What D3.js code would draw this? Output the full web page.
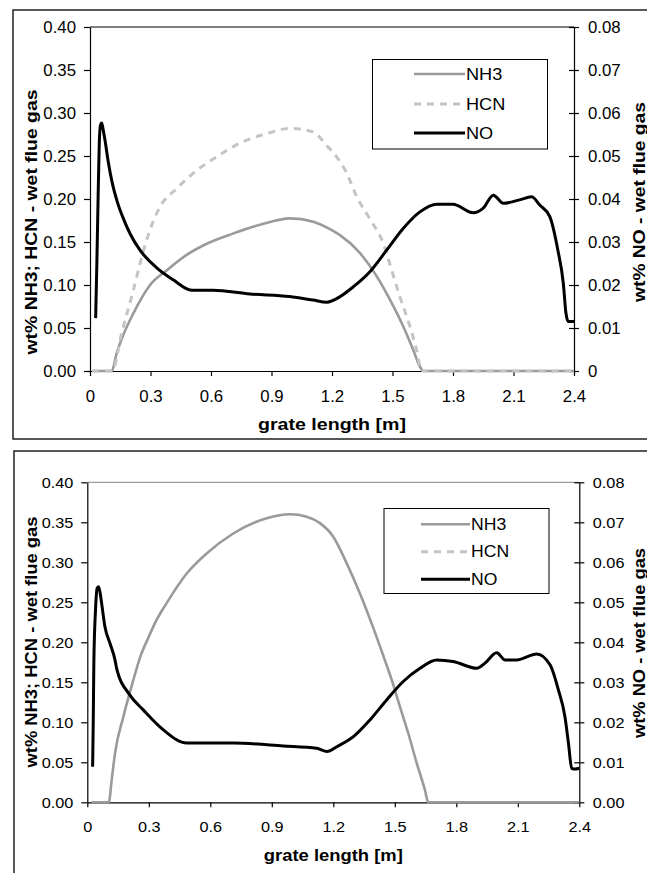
<!DOCTYPE html>
<html>
<head>
<meta charset="utf-8">
<script src="https://cdn.jsdelivr.net/npm/d3@7"></script>
<style>
	body { margin: 0; background: #fff; }
	svg { display: block; }
	text { font-family: 'Liberation Sans', Arial, sans-serif; fill: #000; }
</style>
</head>
<body>
<svg id="chart" width="647" height="873"></svg>
<script>
// --- data ---
const seriesNames = ['NH3', 'HCN', 'NO']

const xTicks = [0, 0.3, 0.6, 0.9, 1.2, 1.5, 1.8, 2.1, 2.4]
const xTickLabels = ['0', '0.3', '0.6', '0.9', '1.2', '1.5', '1.8', '2.1', '2.4']
const leftTicks = [0, 0.05, 0.1, 0.15, 0.2, 0.25, 0.3, 0.35, 0.4]
const leftTickLabels = ['0.00', '0.05', '0.10', '0.15', '0.20', '0.25', '0.30', '0.35', '0.40']
const rightTicks = [0, 0.01, 0.02, 0.03, 0.04, 0.05, 0.06, 0.07, 0.08]
const rightLabelsTop = ['0', '0.01', '0.02', '0.03', '0.04', '0.05', '0.06', '0.07', '0.08']
const rightLabelsBottom = ['0.00', '0.01', '0.02', '0.03', '0.04', '0.05', '0.06', '0.07', '0.08']

// top chart
const topNH3 = [[0.01,0],[0.108,0],[0.132,0.0206],[0.165,0.0419],[0.215,0.067],[0.298,0.1],[0.38,0.117],[0.479,0.135],[0.579,0.148],[0.711,0.16],[0.843,0.17],[0.992,0.1775],[1.107,0.1736],[1.19,0.165],[1.24,0.158],[1.339,0.137],[1.422,0.11],[1.488,0.0826],[1.554,0.0515],[1.603,0.0244],[1.636,0.005],[1.653,0],[2.4,0]]
const topHCN = [[0.01,0],[0.11,0],[0.157,0.044],[0.215,0.094],[0.264,0.139],[0.31,0.172],[0.35,0.192],[0.43,0.212],[0.512,0.23],[0.628,0.249],[0.744,0.265],[0.876,0.276],[0.992,0.282],[1.107,0.278],[1.174,0.262],[1.223,0.249],[1.273,0.23],[1.322,0.203],[1.39,0.176],[1.455,0.148],[1.495,0.118],[1.537,0.086],[1.587,0.0515],[1.62,0.024],[1.645,0],[2.4,0]]
const topNO = [[0.028,0.0123],[0.034,0.025],[0.04,0.04],[0.046,0.053],[0.052,0.0572],[0.058,0.0577],[0.065,0.0562],[0.075,0.0535],[0.09,0.0488],[0.11,0.0438],[0.135,0.0394],[0.165,0.0355],[0.2,0.0318],[0.248,0.0281],[0.331,0.024],[0.413,0.0212],[0.504,0.0188],[0.61,0.0188],[0.793,0.0179],[0.99,0.0173],[1.106,0.0165],[1.174,0.016],[1.24,0.0173],[1.306,0.0196],[1.388,0.0231],[1.471,0.0281],[1.554,0.0332],[1.636,0.037],[1.719,0.0388],[1.8,0.0388],[1.9,0.0368],[1.95,0.0379],[2.0,0.0409],[2.05,0.039],[2.13,0.0398],[2.19,0.0405],[2.23,0.0386],[2.28,0.0359],[2.32,0.0281],[2.347,0.0204],[2.36,0.0135],[2.372,0.0115],[2.4,0.0115]]

// bottom chart (HCN has no visible curve there, legend only)
const botNH3 = [[0.02,0],[0.105,0],[0.119,0.028],[0.135,0.061],[0.176,0.107],[0.216,0.145],[0.26,0.183],[0.3,0.207],[0.33,0.224],[0.387,0.249],[0.485,0.286],[0.582,0.311],[0.712,0.336],[0.875,0.355],[0.989,0.36],[1.07,0.357],[1.135,0.349],[1.2,0.332],[1.265,0.299],[1.33,0.261],[1.395,0.218],[1.44,0.186],[1.485,0.153],[1.525,0.1195],[1.566,0.086],[1.607,0.049],[1.647,0.0154],[1.663,0],[2.4,0]]
const botHCN = []
const botNO = [[0.026,0.0089],[0.029,0.02],[0.032,0.035],[0.04,0.048],[0.048,0.0535],[0.055,0.0539],[0.062,0.0525],[0.07,0.0497],[0.086,0.0439],[0.111,0.0397],[0.135,0.0356],[0.143,0.0335],[0.208,0.0268],[0.273,0.0231],[0.371,0.0181],[0.485,0.0148],[0.712,0.0148],[0.956,0.0141],[1.119,0.0135],[1.17,0.0127],[1.217,0.0139],[1.298,0.0164],[1.379,0.0206],[1.46,0.0256],[1.541,0.0302],[1.623,0.0335],[1.704,0.0356],[1.785,0.0352],[1.9,0.0335],[1.94,0.0348],[1.997,0.0374],[2.038,0.0356],[2.095,0.0356],[2.193,0.0371],[2.258,0.0343],[2.298,0.0281],[2.33,0.0214],[2.347,0.0148],[2.363,0.0085],[2.379,0.0083],[2.4,0.0085]]

// --- styles for the three series ---
const seriesStyle = {
	NH3: { color: '#9a9a9a', width: 2.6, dash: null },
	HCN: { color: '#c4c4c4', width: 3, dash: '7,6' },
	NO: { color: '#000', width: 3, dash: null }
}

const svg = d3.select('#chart')

// stretch text a bit sideways, keeps anchor in place
function stretch(sel, k) {
	sel.each(function () {
		const t = d3.select(this)
		const x = +t.attr('x') || 0
		t.attr('transform', `translate(${x},0) scale(${k},1) translate(${-x},0)`)
	})
}

function drawPanel(p, series, rightLabels) {
	// outer frame
	svg.append('rect')
		.attr('x', p.frame.x).attr('y', p.frame.y)
		.attr('width', 700).attr('height', p.frame.h)
		.attr('fill', 'none').attr('stroke', '#111').attr('stroke-width', 1.4)

	const x = d3.scaleLinear().domain([0, 2.4]).range([p.x0, p.x1])
	const yL = d3.scaleLinear().domain([0, 0.4]).range([p.y1, p.y0])
	const yR = d3.scaleLinear().domain([0, 0.08]).range([p.y1, p.y0])

	// plot area top border
	svg.append('line')
		.attr('x1', p.x0).attr('x2', p.x1).attr('y1', p.y0).attr('y2', p.y0)
		.attr('stroke', p.topBorder).attr('stroke-width', 1)

	const left = svg.append('g')
		.attr('transform', `translate(${p.x0},0)`)
		.call(d3.axisLeft(yL).tickValues(leftTicks)
			.tickFormat((d, i) => leftTickLabels[i])
			.tickSize(6).tickPadding(8).tickSizeOuter(0))
	const right = svg.append('g')
		.attr('transform', `translate(${p.x1},0)`)
		.call(d3.axisRight(yR).tickValues(rightTicks)
			.tickFormat((d, i) => rightLabels[i])
			.tickSize(5).tickPadding(p.rightPad).tickSizeOuter(0))
	right.selectAll('.tick line').attr('x1', -5)
	const bottom = svg.append('g')
		.attr('transform', `translate(0,${p.y1})`)
		.call(d3.axisBottom(x).tickValues(xTicks)
			.tickFormat((d, i) => xTickLabels[i])
			.tickSize(5).tickPadding(p.xPad).tickSizeOuter(0))

	;[left, right, bottom].forEach(g => {
		g.attr('font-size', p.font).attr('font-family', null)
		g.selectAll('.domain, .tick line').attr('stroke', '#000').attr('stroke-width', 1.2)
		stretch(g.selectAll('text'), 1.05)
	})

	// series lines
	const line = (scale) => d3.line()
		.x(d => x(d[0]))
		.y(d => scale(d[1]))
		.curve(d3.curveMonotoneX)

	series.filter(s => s.values.length).forEach(s => {
		const st = seriesStyle[s.name]
		svg.append('path')
			.datum(s.values)
			.attr('d', line(s.axis === 'right' ? yR : yL))
			.attr('fill', 'none')
			.attr('stroke', st.color)
			.attr('stroke-width', st.width)
			.attr('stroke-dasharray', st.dash)
			.attr('stroke-linejoin', 'round')
	})

	// titles
	svg.append('text')
		.attr('x', (p.x0 + p.x1) / 2).attr('y', p.xTitleY)
		.attr('text-anchor', 'middle').attr('font-weight', 'bold')
		.attr('font-size', 17)
		.attr('textLength', p.xTitleLen).attr('lengthAdjust', 'spacingAndGlyphs')
		.text('grate length [m]')
	svg.append('text')
		.attr('transform', `translate(${p.lTitle[0]},${p.lTitle[1]}) rotate(-90)`)
		.attr('text-anchor', 'middle').attr('font-weight', 'bold')
		.attr('font-size', 17)
		.attr('textLength', p.lTitle[2]).attr('lengthAdjust', 'spacingAndGlyphs')
		.text('wt% NH3; HCN - wet flue gas')
	svg.append('text')
		.attr('transform', `translate(${p.rTitle[0]},${p.rTitle[1]}) rotate(-90)`)
		.attr('text-anchor', 'middle').attr('font-weight', 'bold')
		.attr('font-size', 16)
		.attr('textLength', p.rTitle[2]).attr('lengthAdjust', 'spacingAndGlyphs')
		.text('wt% NO - wet flue gas')

	// legend
	const lg = p.legend
	svg.append('rect')
		.attr('x', lg.x).attr('y', lg.y).attr('width', lg.w).attr('height', lg.h)
		.attr('fill', '#fff').attr('stroke', '#000').attr('stroke-width', 1)
	seriesNames.forEach((name, i) => {
		const st = seriesStyle[name]
		const cy = lg.rows[i]
		svg.append('line')
			.attr('x1', lg.lx0).attr('x2', lg.lx1).attr('y1', cy).attr('y2', cy)
			.attr('stroke', st.color).attr('stroke-width', st.width)
			.attr('stroke-dasharray', st.dash)
		const t = svg.append('text')
			.attr('x', lg.tx).attr('y', cy).attr('dy', '0.36em')
			.attr('font-size', p.font + 0.5)
			.text(name)
		stretch(t, 1.1)
	})
}

drawPanel({
	frame: { x: 13, y: 10, h: 429 },
	x0: 90, x1: 574, y0: 27, y1: 371,
	topBorder: '#000', font: 16, rightPad: 9, xPad: 14.5,
	xTitleY: 430, xTitleLen: 148,
	lTitle: [37, 222, 265], rTitle: [645, 202, 200],
	legend: { x: 372.5, y: 59.5, w: 175, h: 89.5, lx0: 414, lx1: 465, tx: 466, rows: [74, 104, 133] }
}, [
	{ name: 'NH3', axis: 'left', values: topNH3 },
	{ name: 'HCN', axis: 'left', values: topHCN },
	{ name: 'NO', axis: 'right', values: topNO }
], rightLabelsTop)

drawPanel({
	frame: { x: 14, y: 451, h: 500 },
	x0: 87.3, x1: 579.3, y0: 482.3, y1: 802.3,
	topBorder: '#808080', font: 15.5, rightPad: 8.5, xPad: 14,
	xTitleY: 861, xTitleLen: 139,
	lTitle: [37, 642, 251], rTitle: [645, 643, 190],
	legend: { x: 384, y: 508.5, w: 165, h: 85, lx0: 421, lx1: 470, tx: 471, rows: [524.3, 551.7, 579.3] }
}, [
	{ name: 'NH3', axis: 'left', values: botNH3 },
	{ name: 'HCN', axis: 'left', values: botHCN },
	{ name: 'NO', axis: 'right', values: botNO }
], rightLabelsBottom)
</script>
</body>
</html>
